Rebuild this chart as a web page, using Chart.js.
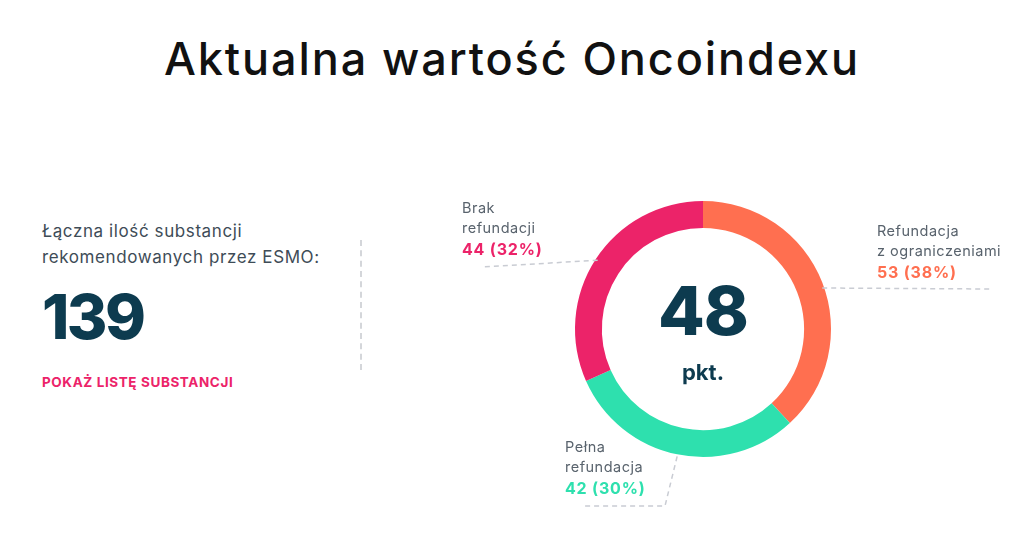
<!DOCTYPE html>
<html lang="pl">
<head>
<meta charset="utf-8">
<title>Aktualna wartość Oncoindexu</title>
<script src="https://cdn.jsdelivr.net/npm/chart.js@4/dist/chart.umd.min.js"></script>
<style>
  html, body { margin: 0; padding: 0; background: #fff; }
  body { width: 1024px; height: 559px; position: relative; overflow: hidden; font-family: Inter, "Open Sans", sans-serif; }
  h1 { position: absolute; left: 0; right: 0; top: 31px; margin: 0; text-align: center; font-weight: 500; font-size: 45px; color: #111; letter-spacing: 1.9px; }
  #left { position: absolute; left: 42px; top: 218px; color: #3e4c57; }
  #left .desc { font-size: 17px; line-height: 26px; letter-spacing: 0.6px; }
  #left .total { font-size: 62px; font-weight: 800; color: #0d3b4f; margin-top: 15px; line-height: 64px; letter-spacing: -2.5px; }
  #left .link { font-size: 13.5px; font-weight: 700; color: #ec2369; margin-top: 25px; letter-spacing: 0.6px; }
  #sep { position: absolute; left: 360px; top: 240px; height: 130px; border-left: 2px dashed #d4d6da; }
  #wrap { position: absolute; left: 0; top: 0; width: 1024px; height: 559px; }
</style>
</head>
<body>
<h1>Aktualna wartość Oncoindexu</h1>
<div id="left">
  <div class="desc">Łączna ilość substancji<br>rekomendowanych przez ESMO:</div>
  <div class="total" id="total"></div>
  <div class="link">POKAŻ LISTĘ SUBSTANCJI</div>
</div>
<div id="sep"></div>
<div id="wrap"><canvas id="donut"></canvas></div>
<script>
// segments, clockwise from 12 o'clock
var categories = ['Refundacja z ograniczeniami', 'Pełna refundacja', 'Brak refundacji'];
var labelLines = [['Refundacja', 'z ograniczeniami'], ['Pełna', 'refundacja'], ['Brak', 'refundacji']];
var counts = [53, 42, 44];
var percents = [38, 30, 32];
var colors = ['#ff6f50', '#2ee0ae', '#ec2369'];
var score = 48;
var scoreUnit = 'pkt.';
var totalSubstances = 139;

document.getElementById('total').textContent = totalSubstances;

var font = 'Inter, "Open Sans", sans-serif';

function dashed(ctx, pts){
    ctx.save();
    ctx.strokeStyle = '#c9ccd3';
    ctx.lineWidth = 1.5;
    ctx.setLineDash([5, 4]);
    ctx.beginPath();
    ctx.moveTo(pts[0][0], pts[0][1]);
    for (var i = 1; i < pts.length; i++) ctx.lineTo(pts[i][0], pts[i][1]);
    ctx.stroke();
    ctx.restore();
}

function writeLabel(ctx, i, x, y){
    ctx.save();
    ctx.textAlign = 'left';
    ctx.textBaseline = 'middle';
    ctx.fillStyle = '#59636d';
    ctx.font = '400 14.5px ' + font;
    if ('letterSpacing' in ctx) ctx.letterSpacing = '0.5px';
    ctx.fillText(labelLines[i][0], x, y);
    ctx.fillText(labelLines[i][1], x, y + 20);
    ctx.fillStyle = colors[i];
    ctx.font = '700 16px ' + font;
    if ('letterSpacing' in ctx) ctx.letterSpacing = '0.8px';
    ctx.fillText(counts[i] + ' (' + percents[i] + '%)', x, y + 41);
    ctx.restore();
}

// center score + leader lines with labels, anchored on arc geometry
var annotations = {
    id: 'annotations',
    afterDatasetsDraw: function(chart){
        var ctx = chart.ctx;
        var arcs = chart.getDatasetMeta(0).data;
        var cx = arcs[0].x, cy = arcs[0].y, r = arcs[0].outerRadius;

        ctx.save();
        ctx.textAlign = 'center';
        ctx.textBaseline = 'middle';
        ctx.fillStyle = '#0d3b4f';
        ctx.font = '800 68px ' + font;
        if ('letterSpacing' in ctx) ctx.letterSpacing = '-1px';
        ctx.fillText(String(score), cx, cy - 14);
        ctx.font = '700 22px ' + font;
        if ('letterSpacing' in ctx) ctx.letterSpacing = '0px';
        ctx.fillText(scoreUnit, cx, cy + 44);
        ctx.restore();

        arcs.forEach(function(a, i){
            var mid = (a.startAngle + a.endAngle) / 2;
            var px = cx + Math.cos(mid) * r, py = cy + Math.sin(mid) * r;
            if (i === 0) {
                dashed(ctx, [[px, cy - 41], [cx + 287, cy - 40]]);
                writeLabel(ctx, i, cx + 174, cy - 97);
            } else if (i === 1) {
                dashed(ctx, [[px, py + 2], [cx - 38, cy + 177], [cx - 120, cy + 177]]);
                writeLabel(ctx, i, cx - 138, cy + 119);
            } else {
                dashed(ctx, [[px + 2, py + 1], [cx - 221, cy - 62]]);
                writeLabel(ctx, i, cx - 241, cy - 120);
            }
        });
    }
};

var ctx = document.getElementById('donut');
new Chart(ctx.getContext('2d'), {
    type: 'doughnut',
    data: {
        labels: categories,
        datasets: [{
            data: counts,
            backgroundColor: colors,
            borderWidth: 0,
            hoverOffset: 0
        }]
    },
    options: {
        responsive: true,
        maintainAspectRatio: false,
        animation: false,
        cutout: '79%',
        layout: { padding: { left: 575, right: 193, top: 201, bottom: 102 } },
        plugins: {
            legend: { display: false },
            tooltip: { enabled: false }
        }
    },
    plugins: [annotations]
});
</script>
</body>
</html>
